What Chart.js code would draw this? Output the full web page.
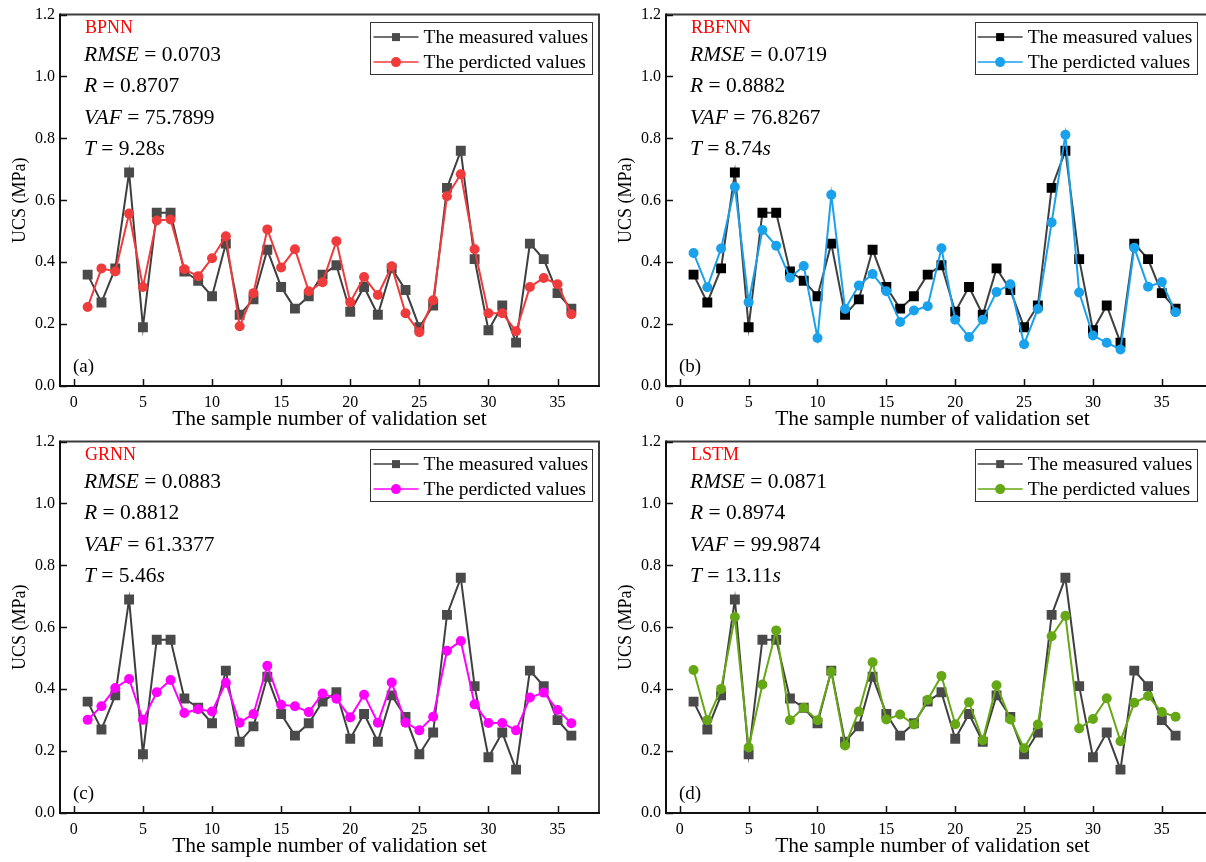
<!DOCTYPE html>
<html>
<head>
<meta charset="utf-8">
<script src="https://cdn.jsdelivr.net/npm/chart.js@4.4.1/dist/chart.umd.min.js"></script>
<style>
  html, body { margin: 0; padding: 0; background: #fff; }
  #wrap { position: relative; width: 1206px; height: 862px; overflow: hidden; }
  #wrap canvas { position: absolute; }
</style>
</head>
<body>
<div id="wrap">
  <canvas id="c0" width="606" height="432" style="left:0;top:0"></canvas>
  <canvas id="c1" width="600" height="432" style="left:606px;top:0"></canvas>
  <canvas id="c2" width="606" height="432" style="left:0;top:427px"></canvas>
  <canvas id="c3" width="600" height="432" style="left:606px;top:427px"></canvas>
</div>
<script>
// Numéro d'échantillon du jeu de validation
const sampleNo = [1, 2, 3, 4, 5, 6, 7, 8, 9, 10, 11, 12, 13, 14, 15, 16, 17, 18,
                  19, 20, 21, 22, 23, 24, 25, 26, 27, 28, 29, 30, 31, 32, 33, 34, 35, 36];

// Valeurs mesurées (UCS, MPa)
const measured = [0.36, 0.27, 0.38, 0.69, 0.19, 0.56, 0.56, 0.37, 0.34, 0.29, 0.46, 0.23,
                  0.28, 0.44, 0.32, 0.25, 0.29, 0.36, 0.39, 0.24, 0.32, 0.23, 0.38, 0.31,
                  0.19, 0.26, 0.64, 0.76, 0.41, 0.18, 0.26, 0.14, 0.46, 0.41, 0.30, 0.25];

// Valeurs prédites par modèle
const bpnnPred = [0.255, 0.38, 0.37, 0.557, 0.32, 0.535, 0.538, 0.377, 0.355, 0.413, 0.484, 0.193,
                  0.30, 0.506, 0.383, 0.442, 0.306, 0.335, 0.468, 0.271, 0.352, 0.294, 0.387, 0.235,
                  0.174, 0.277, 0.613, 0.684, 0.442, 0.235, 0.235, 0.177, 0.32, 0.349, 0.329, 0.232];
const rbfnnPred = [0.43, 0.319, 0.444, 0.643, 0.271, 0.504, 0.453, 0.35, 0.388, 0.155, 0.618, 0.249,
                   0.325, 0.362, 0.306, 0.207, 0.244, 0.258, 0.445, 0.214, 0.158, 0.214, 0.304, 0.329,
                   0.135, 0.249, 0.528, 0.812, 0.302, 0.163, 0.14, 0.118, 0.447, 0.321, 0.336, 0.238];
const grnnPred = [0.301, 0.345, 0.404, 0.433, 0.301, 0.39, 0.43, 0.323, 0.335, 0.328, 0.421, 0.292,
                  0.32, 0.476, 0.35, 0.345, 0.326, 0.386, 0.369, 0.309, 0.382, 0.292, 0.422, 0.292,
                  0.267, 0.311, 0.524, 0.556, 0.351, 0.291, 0.291, 0.267, 0.373, 0.389, 0.333, 0.29];
const lstmPred = [0.462, 0.3, 0.401, 0.633, 0.212, 0.415, 0.59, 0.3, 0.34, 0.3, 0.457, 0.218,
                  0.328, 0.487, 0.302, 0.318, 0.286, 0.366, 0.443, 0.287, 0.358, 0.235, 0.413, 0.302,
                  0.209, 0.286, 0.571, 0.637, 0.273, 0.304, 0.371, 0.232, 0.356, 0.378, 0.326, 0.311];

// Indicateurs de performance
const modelNames = ['BPNN', 'RBFNN', 'GRNN', 'LSTM'];
const rmseVals = ['0.0703', '0.0719', '0.0883', '0.0871'];
const rVals = ['0.8707', '0.8882', '0.8812', '0.8974'];
const vafVals = ['75.7899', '76.8267', '61.3377', '99.9874'];
const timeVals = ['9.28', '8.74', '5.46', '13.11'];
const panelTags = ['(a)', '(b)', '(c)', '(d)'];

// Graduations
const xTicks = [0, 5, 10, 15, 20, 25, 30, 35];
const yTicks = [0, 0.2, 0.4, 0.6, 0.8, 1.0, 1.2];

const legendLabels = ['The measured values', 'The perdicted values'];
const xTitle = 'The sample number of validation set';
const yTitle = 'UCS (MPa)';

const FONT = "'Liberation Serif', 'Times New Roman', serif";

const panels = [
    { pred: bpnnPred,  color: '#ef3b3b', measMarker: '#4a4a4a', xMax: 38,   padRight: 2, rightSpine: true },
    { pred: rbfnnPred, color: '#1aa1ec', measMarker: '#000000', xMax: 37.7, padRight: 0, rightSpine: false },
    { pred: grnnPred,  color: '#ff00ff', measMarker: '#4a4a4a', xMax: 38,   padRight: 2, rightSpine: true },
    { pred: lstmPred,  color: '#66a716', measMarker: '#4a4a4a', xMax: 37.7, padRight: 0, rightSpine: false }
];

// Texte en plusieurs morceaux (italique / droit)
function drawRich(ctx, parts, x, y, size) {
    let cx = x;
    parts.forEach(p => {
        ctx.font = (p[1] ? 'italic ' : '') + size + 'px ' + FONT;
        ctx.fillText(p[0], cx, y);
        cx += ctx.measureText(p[0]).width;
    });
}

// Cadre, graduations intérieures, annotations et légende
const panelDecor = {
    id: 'panelDecor',
    afterDraw(chart, args, opts) {
        const ctx = chart.ctx;
        const a = chart.chartArea;
        const xs = chart.scales.x;
        const ys = chart.scales.y;
        const i = opts.index;
        const p = panels[i];

        ctx.save();
        // cadre
        ctx.strokeStyle = '#3c3c3c';
        ctx.lineWidth = 2;
        ctx.beginPath();
        ctx.moveTo(a.left, a.top);
        ctx.lineTo(a.right + (p.rightSpine ? 0 : 10), a.top);
        if (p.rightSpine) ctx.lineTo(a.right, a.bottom);
        ctx.stroke();
        ctx.strokeStyle = '#111';
        ctx.beginPath();
        ctx.moveTo(a.left, a.top - 1);
        ctx.lineTo(a.left, a.bottom);
        ctx.lineTo(a.right + (p.rightSpine ? 1 : 10), a.bottom);
        ctx.stroke();

        // graduations vers l'intérieur
        ctx.lineWidth = 1.5;
        ctx.beginPath();
        xTicks.forEach(v => {
            const px = Math.round(xs.getPixelForValue(v)) + 0.5;
            ctx.moveTo(px, a.bottom);
            ctx.lineTo(px, a.bottom - 7);
        });
        yTicks.forEach(v => {
            const py = Math.round(ys.getPixelForValue(v)) + 0.5;
            ctx.moveTo(a.left, py);
            ctx.lineTo(a.left + 7, py);
        });
        ctx.stroke();

        // nom du modèle et indicateurs
        ctx.textBaseline = 'middle';
        ctx.textAlign = 'left';
        ctx.fillStyle = '#ff0000';
        ctx.font = '18px ' + FONT;
        ctx.fillText(modelNames[i], a.left + 25, a.top + 14);
        ctx.fillStyle = '#000';
        const tx = a.left + 24;
        drawRich(ctx, [['RMSE', true], [' = ' + rmseVals[i], false]], tx, a.top + 41, 21.5);
        drawRich(ctx, [['R', true], [' = ' + rVals[i], false]], tx, a.top + 72, 21.5);
        drawRich(ctx, [['VAF', true], [' = ' + vafVals[i], false]], tx, a.top + 103.5, 21.5);
        drawRich(ctx, [['T', true], [' = ' + timeVals[i], false], ['s', true]], tx, a.top + 135, 21.5);

        // étiquette du panneau
        ctx.font = '19px ' + FONT;
        ctx.fillText(panelTags[i], a.left + 13, a.bottom - 19);

        // légende encadrée
        ctx.font = '19.5px ' + FONT;
        const tw = Math.max(...legendLabels.map(t => ctx.measureText(t).width));
        const boxRight = xs.getPixelForValue(37.5);
        const boxW = tw + 57;
        const boxL = boxRight - boxW;
        const boxT = a.top + 7.5;
        ctx.strokeStyle = '#333';
        ctx.lineWidth = 1;
        ctx.strokeRect(Math.round(boxL) + 0.5, Math.round(boxT) + 0.5, Math.round(boxW), 52);
        chart.data.datasets.forEach((ds, k) => {
            const ly = boxT + 15 + k * 25;
            ctx.strokeStyle = ds.borderColor;
            ctx.lineWidth = 1.5;
            ctx.beginPath();
            ctx.moveTo(boxL + 3, ly);
            ctx.lineTo(boxL + 48, ly);
            ctx.stroke();
            ctx.fillStyle = ds.pointBackgroundColor;
            if (ds.pointStyle === 'rect') {
                ctx.fillRect(boxL + 21.5, ly - 4, 8, 8);
            } else {
                ctx.beginPath();
                ctx.arc(boxL + 25.5, ly, 5, 0, Math.PI * 2);
                ctx.fill();
            }
            ctx.fillStyle = '#000';
            ctx.fillText(legendLabels[k], boxL + 53, ly + 1);
        });
        ctx.restore();
    }
};

panels.forEach((p, i) => {
    const ctx = document.getElementById('c' + i).getContext('2d');
    new Chart(ctx, {
        type: 'line',
        data: {
            datasets: [
                {
                    label: legendLabels[0],
                    data: sampleNo.map((n, k) => ({ x: n, y: measured[k] })),
                    borderColor: '#3f3f3f',
                    borderWidth: 2,
                    pointStyle: 'rect',
                    pointRadius: 7,
                    pointBorderWidth: 0,
                    pointBackgroundColor: p.measMarker,
                    pointBorderColor: p.measMarker,
                    tension: 0,
                    order: 2
                },
                {
                    label: legendLabels[1],
                    data: sampleNo.map((n, k) => ({ x: n, y: p.pred[k] })),
                    borderColor: p.color,
                    borderWidth: 2,
                    pointStyle: 'circle',
                    pointRadius: 5,
                    pointBorderWidth: 0,
                    pointBackgroundColor: p.color,
                    pointBorderColor: p.color,
                    tension: 0,
                    order: 1
                }
            ]
        },
        options: {
            responsive: false,
            animation: false,
            devicePixelRatio: 1,
            layout: { padding: { top: 13, right: p.padRight, left: 0, bottom: 0 } },
            plugins: {
                legend: { display: false },
                tooltip: { enabled: false },
                panelDecor: { index: i }
            },
            scales: {
                x: {
                    type: 'linear',
                    min: -1,
                    max: p.xMax,
                    grid: { display: false, drawTicks: false },
                    border: { display: false },
                    afterBuildTicks: s => { s.ticks = xTicks.map(v => ({ value: v })); },
                    afterFit: s => { s.height = 46; },
                    ticks: {
                        color: '#000',
                        padding: 7,
                        maxRotation: 0,
                        autoSkip: false,
                        font: { family: FONT, size: 16 }
                    },
                    title: {
                        display: true,
                        text: xTitle,
                        color: '#000',
                        padding: { top: 0, bottom: 0 },
                        font: { family: FONT, size: 21.5 }
                    }
                },
                y: {
                    min: 0,
                    max: 1.2,
                    grid: { display: false, drawTicks: false },
                    border: { display: false },
                    afterBuildTicks: s => { s.ticks = yTicks.map(v => ({ value: v })); },
                    afterFit: s => { s.width = 60; },
                    ticks: {
                        color: '#000',
                        padding: 5,
                        callback: v => Number(v).toFixed(1),
                        font: { family: FONT, size: 16 }
                    },
                    title: {
                        display: true,
                        text: yTitle,
                        color: '#000',
                        padding: { top: 9, bottom: 0 },
                        font: { family: FONT, size: 18 }
                    }
                }
            }
        },
        plugins: [panelDecor]
    });
});
</script>
</body>
</html>
